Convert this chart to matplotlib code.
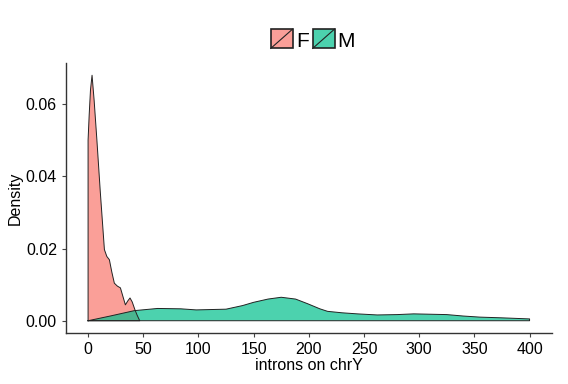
import matplotlib.pyplot as plt
from matplotlib.patches import Rectangle
from matplotlib.lines import Line2D
from matplotlib.legend_handler import HandlerBase

plt.rcParams['font.family'] = ['Liberation Sans', 'DejaVu Sans']

# density curves
f_x = [0, 0, 1, 2.2, 3.6, 5.5, 8, 11, 14.8, 17, 19.3, 21.5, 23.8, 26.5, 29.3, 31.5,
       33.8, 36, 38, 40, 42.5, 44.5, 46.8]
f_y = [0, 0.050, 0.057, 0.064, 0.068, 0.061, 0.050, 0.036, 0.0197, 0.0178, 0.0169, 0.0135,
       0.0104, 0.0096, 0.0091, 0.0068, 0.0044, 0.0055, 0.0063, 0.0052, 0.0030, 0.0015, 0]

m_x = [0, 20, 42, 63, 84, 98, 125, 140, 150, 163, 175, 188, 199, 210, 217, 230, 244,
       262, 280, 295, 310, 325, 340, 355, 375, 400, 400]
m_y = [0, 0.0013, 0.0028, 0.0034, 0.0033, 0.0030, 0.0032, 0.0042, 0.0051, 0.0060, 0.0065,
       0.0060, 0.0047, 0.0033, 0.0026, 0.0022, 0.0019, 0.0016, 0.0017, 0.0019, 0.0018,
       0.0017, 0.0013, 0.0010, 0.0008, 0.0005, 0]

groups = ['F', 'M']
colors = ['#F8766D', '#00BF8C']
x_ticks = [0, 50, 100, 150, 200, 250, 300, 350, 400]
y_ticks = [0.00, 0.02, 0.04, 0.06]


class KeyHandler(HandlerBase):
    # ggplot style key: filled square with a diagonal line
    def create_artists(self, legend, orig, xd, yd, w, h, fontsize, trans):
        y0 = yd - 0.18 * h
        r = Rectangle((xd, y0), w, h, facecolor=orig.get_facecolor(),
                      edgecolor='#222222', linewidth=1.2, transform=trans)
        l = Line2D([xd, xd + w], [y0, y0 + h], color='#222222', linewidth=0.8,
                   transform=trans)
        return [r, l]


fig = plt.figure(figsize=(5.68, 3.84), dpi=100)
ax = fig.add_axes([0.1162, 0.1328, 0.855, 0.7032])

ax.fill(f_x, f_y, facecolor=colors[0], alpha=0.7, edgecolor='none')
ax.plot(f_x + [0], f_y + [0], color='#222222', linewidth=0.7)
ax.fill(m_x, m_y, facecolor=colors[1], alpha=0.7, edgecolor='none')
ax.plot(m_x + [0], m_y + [0], color='#222222', linewidth=0.7)

ax.set_xlim(-20, 420)
ax.set_ylim(-0.0034, 0.0714)
ax.set_xticks(x_ticks)
ax.set_yticks(y_ticks)
ax.set_yticklabels([f'{v:.2f}' for v in y_ticks])
ax.tick_params(labelsize=11.5, colors='#444444', labelcolor='black', length=3)

for s in ['top', 'right']:
    ax.spines[s].set_visible(False)
for s in ['left', 'bottom']:
    ax.spines[s].set_color('#333333')
    ax.spines[s].set_linewidth(1)

ax.set_xlabel('introns on chrY', fontsize=11.5, labelpad=1)
ax.set_ylabel('Density', fontsize=11.5, labelpad=2)

handles = [Rectangle((0, 0), 1, 1, facecolor=c, alpha=0.7) for c in colors]
fig.legend(handles, groups, loc='center', bbox_to_anchor=(0.551, 0.893), ncol=2,
           frameon=False, fontsize=15, handler_map={Rectangle: KeyHandler()},
           handlelength=1.05, handleheight=1.05, handletextpad=0.15, columnspacing=0.2)

fig.savefig('out.png', dpi=100)
